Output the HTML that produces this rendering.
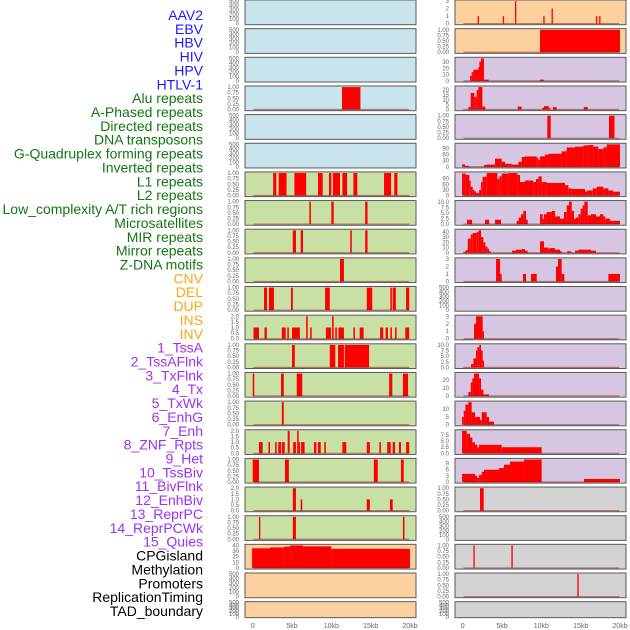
<!DOCTYPE html>
<html><head><meta charset="utf-8">
<style>
html,body{margin:0;padding:0;background:#fff;width:630px;height:630px;overflow:hidden}
svg{display:block}
.lbl{font-family:"Liberation Sans",sans-serif;font-size:14px}
.tk{font-family:"Liberation Sans",sans-serif;font-size:6px;fill:#666}
.xt{font-family:"Liberation Sans",sans-serif;font-size:7px;fill:#666}
</style></head>
<body>
<svg id="chart" width="630" height="630"></svg>
<script>
// ---- labels ----
const trackLabels = ["AAV2","EBV","HBV","HIV","HPV","HTLV-1","Alu repeats","A-Phased repeats","Directed repeats","DNA transposons","G-Quadruplex forming repeats","Inverted repeats","L1 repeats","L2 repeats","Low_complexity A/T rich regions","Microsatellites","MIR repeats","Mirror repeats","Z-DNA motifs","CNV","DEL","DUP","INS","INV","1_TssA","2_TssAFlnk","3_TxFlnk","4_Tx","5_TxWk","6_EnhG","7_Enh","8_ZNF_Rpts","9_Het","10_TssBiv","11_BivFlnk","12_EnhBiv","13_ReprPC","14_ReprPCWk","15_Quies","CPGisland","Methylation","Promoters","ReplicationTiming","TAD_boundary"];
const labelGroups = [6,13,5,15,5];
const groupColors = ["#1a1aff","#117711","#ffa515","#a030f0","#000000"];
const xTickValues = [0,5,10,15,20];
const xTickLabels = ["0","5kb","10kb","15kb","20kb"];

// ---- tick label sets ----
const T500 = ["0","100","200","300","400","500"];
const T1 = ["0.00","0.25","0.50","0.75","1.00"];
const T2 = ["0.0","0.5","1.0","1.5","2.0"];

// ---- left column data: [startKb, endKb, value] ----
const L3 = [[11.35,13.7,1]];
const L6 = [[2.6,3.0,1],[3.3,4.3,1],[5.3,6.8,1],[8.3,8.9,1],[9.7,10.0,1],[10.2,11.1,1],[11.4,12.0,1],[12.8,13.3,1],[16.7,17.6,1],[18.0,18.4,1]];
const L7 = [[7.2,7.4,1],[10.0,10.3,1],[14.3,14.6,1]];
const L8 = [[5.1,5.5,1],[6.1,6.4,1],[12.4,12.6,1],[14.3,14.6,1]];
const L9 = [[11.1,11.6,1]];
const L10 = [[1.44,1.82,1],[2.07,2.7,1],[4.87,5.1,1],[9.2,9.8,1],[14.5,15.2,1],[17.5,17.7,1],[17.8,18.2,1],[19.5,19.9,1]];
const L11 = [[0.1,0.8,1],[1.5,1.8,1],[3.7,4.2,1],[4.4,4.6,1],[5.0,6.0,1],[6.8,7.0,2],[7.3,7.5,1],[9.3,9.95,1],[10.1,10.3,2],[10.5,10.7,1],[10.9,11.6,1],[12.8,13.0,1],[13.6,14.1,1],[16.2,16.6,1],[16.9,17.2,1],[17.5,17.7,1],[18.1,18.3,1],[19.4,19.9,1]];
const L12 = [[5.0,5.35,1],[9.8,10.5,1],[10.85,11.6,1],[11.7,14.8,1]];
const L13 = [[0,0.2,1],[3.6,3.95,1],[5.6,6.3,1],[17.35,17.75,1],[19.1,19.75,1]];
const L14 = [[3.7,3.95,1]];
const L15 = [[0.8,1.27,1],[2.0,2.2,1],[2.85,3.05,1],[3.25,3.6,1],[3.7,4.07,1],[4.45,4.7,2],[5.15,5.5,1],[5.65,5.85,2],[5.85,6.0,1],[6.15,6.6,1],[7.8,8.1,1],[8.3,8.65,1],[9.1,9.3,1],[11.4,11.9,1],[14.5,14.9,1],[16.1,16.3,1],[17.1,17.55,1],[17.8,18.1,1],[18.6,18.85,1],[19.5,19.9,1]];
const L16 = [[0,0.8,1],[4.1,4.6,1],[15.4,15.9,1],[18.85,19.2,1]];
const L17 = [[5.1,5.5,2],[6.1,6.3,1],[14.5,14.9,1],[17.45,17.8,1]];
const L18 = [[0.8,0.97,1],[5.1,5.5,1],[19.1,19.3,1]];
const L19 = [[-0.08,2.2,35],[2.2,4.0,36.5],[4.0,4.75,38],[4.75,6.4,40],[6.4,10,38.5],[10,20,34]];

// ---- right column data ----
const R0 = [[1.9,2.05,1],[5.1,5.25,1],[6.65,6.78,3],[10.25,10.4,1],[11.3,11.45,2],[16.95,17.1,1],[17.35,17.5,1]];
const R1 = [[9.83,20,1]];
const R2 = [[0.93,1.14,8],[1.14,1.36,14],[1.36,2.0,18],[2.0,2.12,22],[2.12,2.33,31],[2.33,2.7,36],[2.7,3.3,2],[9.83,10.3,2]];
const R3 = [[0.72,1.02,2.7],[1.02,1.48,17],[1.48,1.78,13],[1.78,1.99,20],[1.99,2.5,23],[2.5,2.88,3],[7.0,7.5,3],[10.13,10.34,2],[10.34,10.93,3.5],[10.93,11.1,2],[11.48,11.95,2.5],[15.4,15.9,2.5]];
const R4 = [[10.76,11.19,1],[18.6,19.3,1]];
const R5edges = [-0.08,0.3,0.8,2.71,3.05,4.11,4.96,5.38,6.23,7.08,7.5,7.92,9.41,9.62,9.83,10.47,10.89,12.58,13.22,14.28,15.34,15.97,16.61,17.25,17.88,18.3,20];
const R5vals = [12,5,0.5,9,11,40,25,15,11,25,48,51,45,33,51,60,64,76,95,99,105,107,99,87,95,110];
const R6edges = [-0.08,0.38,0.85,1.02,1.27,1.48,1.69,2.08,2.33,2.54,3.05,4.41,4.66,4.96,5.8,6.95,7.29,7.92,8.98,9.32,9.62,10.04,10.68,13.0,13.43,13.86,15.55,15.85,16.53,17.03,17.88,18.52,19.15,20];
const R6vals = [117,110,80,47,30,22,13,30,72,100,120,88,102,117,120,110,72,80,72,88,102,72,67,55,38,35,22,27,38,47,38,27,20];
const R7 = [[0.55,1.19,2],[2.84,3.35,2],[4.11,4.87,2],[6.86,7.12,1.5],[7.12,7.42,3],[7.42,7.71,4.5],[7.71,8.05,6],[8.05,8.26,2],[9.83,10.17,4.5],[10.17,10.34,2.5],[10.34,10.68,4.5],[10.68,11.31,5.5],[11.31,11.74,6],[11.74,12.37,3.5],[12.37,12.88,2.5],[12.88,13.22,5.5],[13.22,13.52,8.5],[13.52,13.86,10.2],[13.86,14.15,6],[14.15,14.4,2.5],[14.4,14.7,3],[14.7,15.0,4.5],[15.0,15.25,7],[15.25,15.47,8.5],[15.47,15.89,10.2],[15.89,16.31,4],[16.31,16.95,4.5],[16.95,17.46,3.5],[17.46,17.88,4.5],[17.88,18.14,3.5],[18.14,18.73,2.5],[18.73,19.03,1.5],[19.03,20,1.5]];
const R8 = [[0.08,0.38,2],[0.38,0.64,5],[0.64,1.02,27],[1.02,1.27,35],[1.27,1.78,38],[1.78,2.03,40],[2.03,2.33,43],[2.33,2.63,30],[2.63,2.88,20],[2.88,3.14,12],[3.14,3.35,8],[3.35,3.56,3],[6.27,6.78,4],[6.78,7.5,6],[7.5,7.92,7],[7.92,8.26,4],[9.83,10.34,22],[10.34,10.89,10],[10.89,11.1,8],[11.1,11.74,9],[11.74,12.37,6],[12.37,12.58,3],[13.3,13.73,3],[14.28,14.7,4],[14.7,16.31,6],[16.31,16.95,4]];
const R9 = [[4.24,4.75,3],[4.75,4.96,1],[7.67,8.05,1],[8.69,9.41,1],[11.86,12.12,2],[12.12,12.58,3],[12.58,12.92,1],[18.52,20,1]];
const R11 = [[1.44,1.69,2],[1.69,2.54,3],[2.54,2.71,1]];
const R12 = [[1.06,1.36,1.5],[1.36,1.69,4],[1.69,1.86,7.5],[1.86,2.12,9],[2.12,2.33,10],[2.33,2.54,7.5],[2.54,2.71,3]];
const R13 = [[0.72,1.02,5],[1.02,1.23,17],[1.23,1.44,22],[1.44,2.08,28],[2.08,2.33,22],[2.33,2.63,8],[2.63,3.35,2]];
const R14 = [[-0.08,0.13,5],[0.13,0.34,9],[0.34,0.72,13],[0.72,1.14,14.5],[1.14,1.57,8],[1.57,2.2,5],[2.2,2.42,3],[2.42,3.05,8],[3.05,3.35,5],[3.35,3.98,2]];
const R15 = [[-0.08,0.51,9.2],[0.51,0.93,8],[0.93,1.23,6.5],[1.23,1.57,4.5],[1.57,1.86,3.5],[1.86,2.08,2.5],[2.08,4.96,3.5],[4.96,10.04,2.5]];
const R16 = [[-0.08,1.57,4],[1.57,1.86,3],[1.86,2.08,2],[2.08,2.42,3.5],[2.42,2.71,5],[2.71,4.62,6],[4.62,5.25,6.8],[5.25,6.02,8.5],[6.02,7.8,10],[7.8,10.04,11],[15.42,20,1.5]];
const R17 = [[2.2,2.67,1]];
const R19 = [[1.36,1.48,1],[6.19,6.36,1]];
const R20 = [[14.58,14.75,1]];

function prof(edges, vals){ const o=[]; for(let i=0;i<vals.length;i++) o.push([edges[i],edges[i+1],vals[i]]); return o; }

const BLUE="#c9e4ec", GREEN="#c9e0a5", ORANGE="#fdd09f", PURPLE="#d6c6e1", GRAY="#d3d3d3";
const leftPanels = [
 [BLUE,T500,null],[BLUE,T500,null],[BLUE,T500,null],[BLUE,T1,L3],[BLUE,T500,null],[BLUE,T500,null],
 [GREEN,T1,L6],[GREEN,T1,L7],[GREEN,T1,L8],[GREEN,T1,L9],[GREEN,T1,L10],[GREEN,T2,L11],[GREEN,T1,L12],
 [GREEN,T1,L13],[GREEN,T1,L14],[GREEN,T2,L15],[GREEN,T1,L16],[GREEN,T2,L17],[GREEN,T1,L18],
 [ORANGE,["0","10","20","30","40"],L19],[ORANGE,T500,null],[ORANGE,T500,null]
];
const rightPanels = [
 [ORANGE,["0","1","2","3"],R0],[ORANGE,T1,R1],
 [PURPLE,["0","10","20","30"],R2],[PURPLE,["0","5","10","15","20"],R3],[PURPLE,T1,R4],
 [PURPLE,["0","30","60","90"],prof(R5edges,R5vals)],[PURPLE,["0","30","60","90"],prof(R6edges,R6vals)],
 [PURPLE,["0.0","2.5","5.0","7.5","10.0"],R7],[PURPLE,["0","10","20","30","40"],R8],
 [PURPLE,["0","1","2","3"],R9],[PURPLE,T500,null],[PURPLE,["0","1","2","3"],R11],
 [PURPLE,["0.0","2.5","5.0","7.5","10.0"],R12],[PURPLE,["0","10","20"],R13],[PURPLE,["0","5","10"],R14],
 [PURPLE,["0.0","2.5","5.0","7.5"],R15],[PURPLE,["0","3","6","9"],R16],
 [GRAY,T1,R17],[GRAY,T500,null],[GRAY,T1,R19],[GRAY,T1,R20],[GRAY,T500,null]
];

const NS="http://www.w3.org/2000/svg";
const svg=document.getElementById('chart');
function mk(tag, attrs, parent){ const e=document.createElementNS(NS,tag); for(const k in attrs) e.setAttribute(k,attrs[k]); (parent||svg).appendChild(e); return e; }

// labels
let li=0;
labelGroups.forEach((n,g)=>{ for(let j=0;j<n;j++,li++){
  const t=mk('text',{x:203,y:20+li*13.86,'text-anchor':'end',class:'lbl',fill:groupColors[g]});
  t.textContent=trackLabels[li];
  
  
}});

const PX_PER_KB=7.865;
function drawColumn(panels, colLeft, x0, side){
  panels.forEach((p,i)=>{
    const [bg,ticks,data]=p;
    const top=i*28.65;
    const h=(i===21)?16:24.7;
    const w=171;
    const g=mk('g',{});
    
    
    mk('rect',{x:colLeft,y:top,width:w,height:h,fill:bg,stroke:'#5a5a5a','stroke-width':1},g);
    const nums=ticks.map(Number);
    const tmax=nums[nums.length-1];
    let dmax=0; if(data) data.forEach(d=>{ if(d[2]>dmax) dmax=d[2]; });
    const ymax=Math.max(dmax,tmax);
    const lo=-0.05*ymax, hi=1.05*ymax;
    const ys=v=> top+h-(v-lo)/(hi-lo)*h;
    const xs=kb=> x0+kb*PX_PER_KB;
    ticks.forEach((tl,k)=>{
      const t=mk('text',{x:colLeft-6,y:ys(nums[k])+2,'text-anchor':'end',class:'tk'},g);
      t.textContent=tl;
      
      
    });
    if(data){
      data.forEach(d=>{
        const xa=Math.max(xs(d[0]),colLeft+0.5), xb=xs(d[1]);
        const r=mk('rect',{x:xa,y:ys(d[2]),width:Math.max(xb-xa,1.3),height:ys(0)-ys(d[2]),fill:'#ff0000'},g);
        
        
      });
      const bl=mk('line',{x1:xs(0.1),x2:xs(19.9),y1:ys(0),y2:ys(0),stroke:'rgba(140,0,0,0.45)','stroke-width':1.2},g);
      
      
    }
  });
  xTickValues.forEach((v,k)=>{
    const t=mk('text',{x:x0+v*PX_PER_KB,y:628,'text-anchor':'middle',class:'xt'});
    t.textContent=xTickLabels[k];
    
    
  });
}
drawColumn(leftPanels,245,252.7,'left');
drawColumn(rightPanels,455,462.7,'right');
</script>
</body></html>
